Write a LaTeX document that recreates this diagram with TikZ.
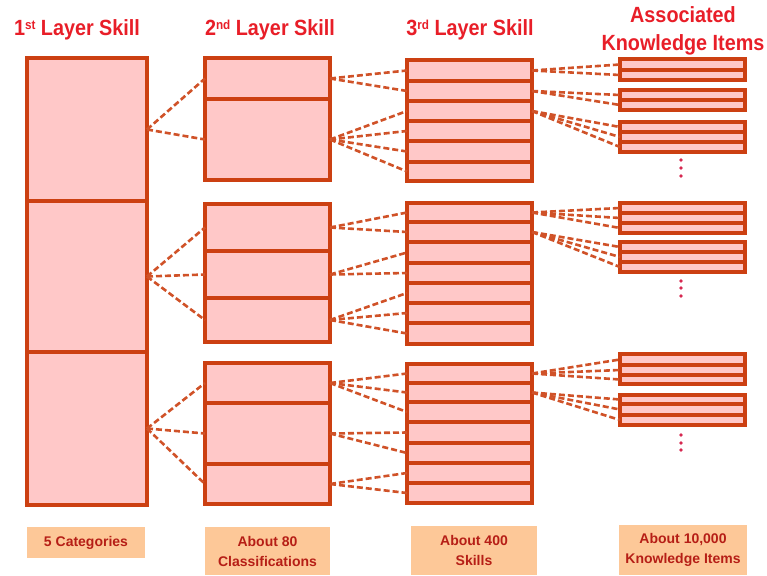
\documentclass[tikz,border=0pt]{standalone}
\usepackage{fontspec}
\setmainfont{Liberation Sans}
\newfontfamily\hdrfont[FakeStretch=0.9]{Liberation Sans}
\definecolor{boxdraw}{RGB}{204,64,18}
\definecolor{boxfill}{RGB}{255,200,200}
\definecolor{conncol}{RGB}{208,82,40}
\definecolor{hdrred}{RGB}{232,30,40}
\definecolor{footfill}{RGB}{253,200,152}
\definecolor{footred}{RGB}{182,30,22}
\definecolor{dotcol}{RGB}{214,40,80}
\newcommand\cellnode[5]{\node[cell, minimum width=#2, minimum height={#4-#3}] (#5) at (#1,{(#3+#4)/2}) {};}
\newcommand\hsup[1]{\raisebox{6.5pt}{\fontsize{13}{13}\selectfont\bfseries #1}}
\tikzset{
 cell/.style={draw=boxdraw, fill=boxfill, line width=3.3pt, inner sep=0pt, outer sep=0pt, rectangle},
 conn/.style={draw=conncol, line width=2.6pt, dash pattern=on 6pt off 3pt},
 hdr/.style={text=hdrred, font=\hdrfont\bfseries\fontsize{22}{28}\selectfont, align=center, inner sep=0pt},
 foot/.style={fill=footfill, text=footred, font=\bfseries\fontsize{14}{20}\selectfont, align=center, inner sep=0pt},
 kdot/.style={fill=dotcol, circle, inner sep=0pt, minimum size=3.8pt}
}
\begin{document}
\begin{tikzpicture}[x=1pt,y=-1pt]
\useasboundingbox (0,0) rectangle (767,575);
% headers
\node[hdr] (h1) at (77,30) {1\hsup{st} Layer Skill};
\node[hdr] (h2) at (270,30) {2\hsup{nd} Layer Skill};
\node[hdr] (h3) at (470,30) {3\hsup{rd} Layer Skill};
\node[hdr] (h4) at (683,31) {Associated\\Knowledge Items};
% column 1
\cellnode{87}{120}{58}{201}{c1a}
\cellnode{87}{120}{201}{352}{c1b}
\cellnode{87}{120}{352}{505}{c1c}
% column 2
\cellnode{267.5}{125}{58}{99}{c2a1}
\cellnode{267.5}{125}{99}{180}{c2a2}
\cellnode{267.5}{125}{204}{251}{c2b1}
\cellnode{267.5}{125}{251}{298}{c2b2}
\cellnode{267.5}{125}{298}{342}{c2b3}
\cellnode{267.5}{125}{363}{403}{c2c1}
\cellnode{267.5}{125}{403}{464}{c2c2}
\cellnode{267.5}{125}{464}{504}{c2c3}
% column 3
\foreach \i/\a/\b in {1/60/81,2/81/101,3/101/121,4/121/141,5/141/162,6/162/181}
  {\cellnode{469.5}{125}{\a}{\b}{c3a\i}}
\foreach \i/\a/\b in {1/203/222,2/222/242,3/242/263,4/263/283,5/283/303,6/303/323,7/323/344}
  {\cellnode{469.5}{125}{\a}{\b}{c3b\i}}
\foreach \i/\a/\b in {1/364/383,2/383/402,3/402/422,4/422/443,5/443/463,6/463/483,7/483/503}
  {\cellnode{469.5}{125}{\a}{\b}{c3c\i}}
% column 4
\cellnode{682.5}{125}{59}{70}{k1r1}
\cellnode{682.5}{125}{70}{80}{k1r2}
\cellnode{682.5}{125}{90}{100}{k2r1}
\cellnode{682.5}{125}{100}{110}{k2r2}
\cellnode{682.5}{125}{122}{132}{k3r1}
\cellnode{682.5}{125}{132}{142}{k3r2}
\cellnode{682.5}{125}{142}{152}{k3r3}
\cellnode{682.5}{125}{203}{213}{k4r1}
\cellnode{682.5}{125}{213}{223}{k4r2}
\cellnode{682.5}{125}{223}{233}{k4r3}
\cellnode{682.5}{125}{242}{252}{k5r1}
\cellnode{682.5}{125}{252}{262}{k5r2}
\cellnode{682.5}{125}{262}{272}{k5r3}
\cellnode{682.5}{125}{354}{365}{k6r1}
\cellnode{682.5}{125}{365}{375}{k6r2}
\cellnode{682.5}{125}{375}{384}{k6r3}
\cellnode{682.5}{125}{395}{404}{k7r1}
\cellnode{682.5}{125}{404}{415}{k7r2}
\cellnode{682.5}{125}{415}{425}{k7r3}
% dots
\node[kdot] (d1) at (681,160) {};
\node[kdot] (d2) at (681,168) {};
\node[kdot] (d3) at (681,176) {};
\node[kdot] (d4) at (681,281) {};
\node[kdot] (d5) at (681,288) {};
\node[kdot] (d6) at (681,296) {};
\node[kdot] (d7) at (681,435) {};
\node[kdot] (d8) at (681,443) {};
\node[kdot] (d9) at (681,450) {};
% connectors col1 -> col2
\foreach \t in {c2a1,c2a2} {\draw[conn] (c1a.east) -- (\t.west);}
\foreach \t in {c2b1,c2b2,c2b3} {\draw[conn] (c1b.east) -- (\t.west);}
\foreach \t in {c2c1,c2c2,c2c3} {\draw[conn] (c1c.east) -- (\t.west);}
% col2 -> col3
\foreach \t in {c3a1,c3a2} {\draw[conn] (c2a1.east) -- (\t.west);}
\foreach \t in {c3a3,c3a4,c3a5,c3a6} {\draw[conn] (c2a2.east) -- (\t.west);}
\foreach \t in {c3b1,c3b2} {\draw[conn] (c2b1.east) -- (\t.west);}
\foreach \t in {c3b3,c3b4} {\draw[conn] (c2b2.east) -- (\t.west);}
\foreach \t in {c3b5,c3b6,c3b7} {\draw[conn] (c2b3.east) -- (\t.west);}
\foreach \t in {c3c1,c3c2,c3c3} {\draw[conn] (c2c1.east) -- (\t.west);}
\foreach \t in {c3c4,c3c5} {\draw[conn] (c2c2.east) -- (\t.west);}
\foreach \t in {c3c6,c3c7} {\draw[conn] (c2c3.east) -- (\t.west);}
% col3 -> col4
\foreach \t in {k1r1,k1r2} {\draw[conn] (c3a1.east) -- (\t.west);}
\foreach \t in {k2r1,k2r2} {\draw[conn] (c3a2.east) -- (\t.west);}
\foreach \t in {k3r1,k3r2,k3r3} {\draw[conn] (c3a3.east) -- (\t.west);}
\foreach \t in {k4r1,k4r2,k4r3} {\draw[conn] (c3b1.east) -- (\t.west);}
\foreach \t in {k5r1,k5r2,k5r3} {\draw[conn] (c3b2.east) -- (\t.west);}
\foreach \t in {k6r1,k6r2,k6r3} {\draw[conn] (c3c1.east) -- (\t.west);}
\foreach \t in {k7r1,k7r2,k7r3} {\draw[conn] (c3c2.east) -- (\t.west);}
% footers
\node[foot, minimum width=118, minimum height=31] (f1) at (86,542.5) {5 Categories};
\node[foot, minimum width=125, minimum height=48] (f2) at (267.5,551) {About 80\\Classifications};
\node[foot, minimum width=126, minimum height=49] (f3) at (474,550.5) {About 400\\Skills};
\node[foot, minimum width=128, minimum height=50] (f4) at (683,550) {About 10,000\\Knowledge Items};
\end{tikzpicture}
\end{document}
